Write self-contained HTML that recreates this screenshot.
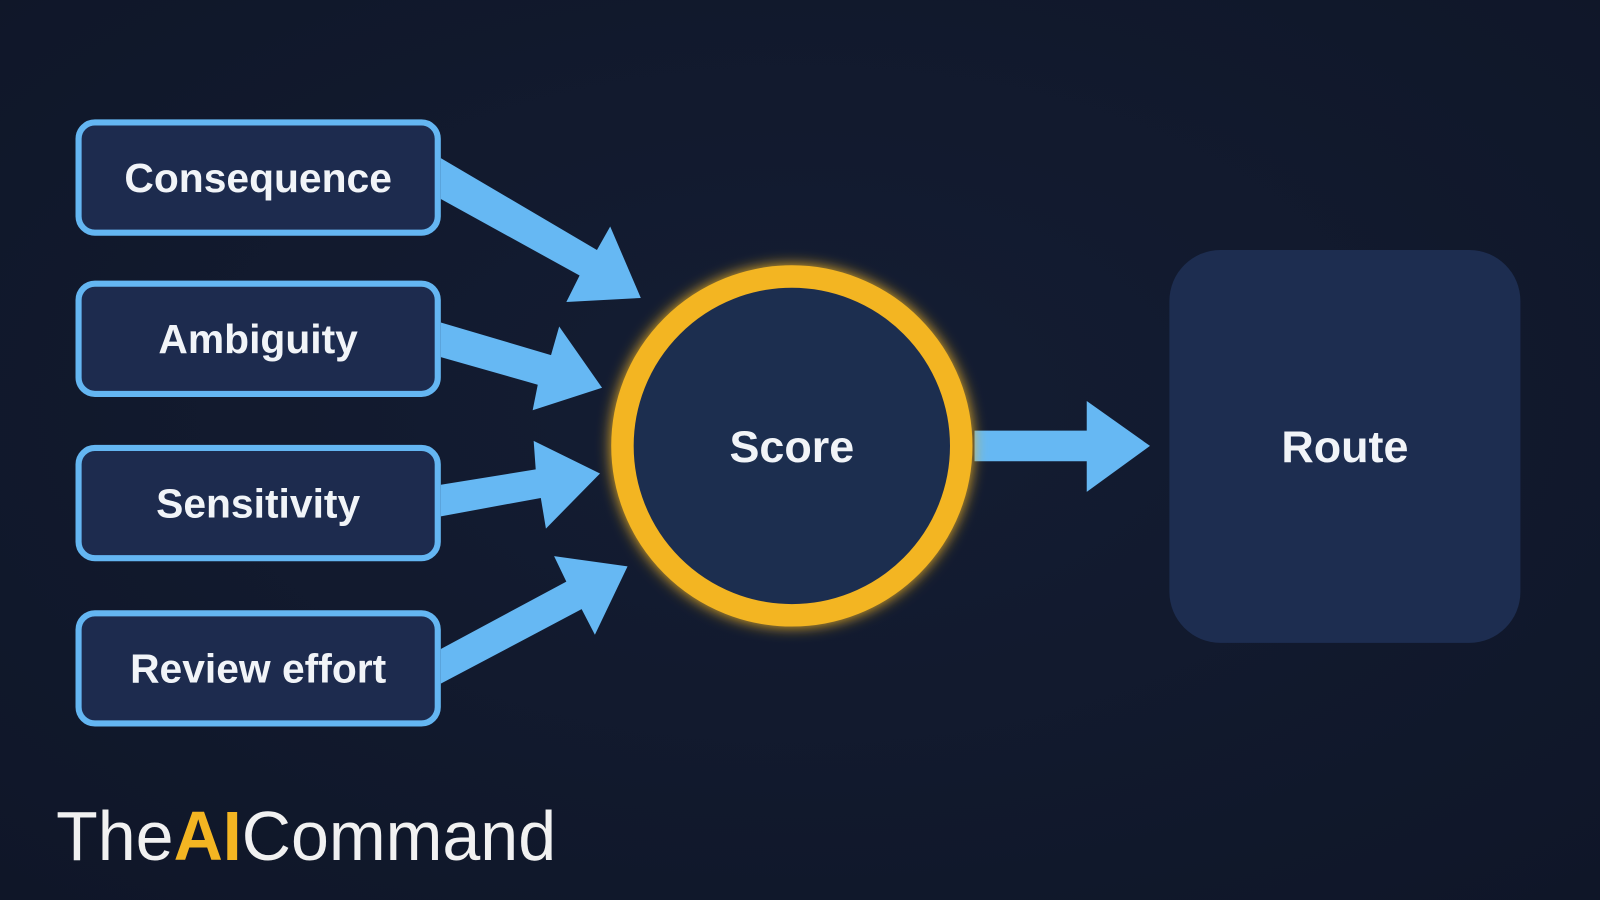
<!DOCTYPE html>
<html><head><meta charset="utf-8"><style>
html,body{margin:0;padding:0;background:#111a2d;}
svg{display:block}
</style></head><body>
<svg width="1600" height="900" viewBox="0 0 1568 882" xmlns="http://www.w3.org/2000/svg">
<defs>
<radialGradient id="bg" cx="50%" cy="45%" r="75%">
<stop offset="0" stop-color="#141d33"/><stop offset="1" stop-color="#0f1628"/>
</radialGradient>
<filter id="glow" x="-30%" y="-30%" width="160%" height="160%">
<feGaussianBlur stdDeviation="7" result="b"/>
<feMerge><feMergeNode in="b"/><feMergeNode in="SourceGraphic"/></feMerge>
</filter>
</defs>
<rect width="1568" height="882" fill="url(#bg)"/>
<g fill="#1d2b4e" stroke="#64b6f2" stroke-width="6">
<rect x="77" y="120" width="352" height="108" rx="16"/>
<rect x="77" y="278" width="352" height="108" rx="16"/>
<rect x="77" y="439" width="352" height="108" rx="16"/>
<rect x="77" y="601" width="352" height="108" rx="16"/>
</g>
<g fill="#66b8f3">
<polygon points="432,155 585,245 598,222 628,292 555,296 568,270 432,195"/>
<polygon points="432,316 540,348 548,320 590,380 522,402 527,377 432,350"/>
<polygon points="432,475 525,460 523,432 588,464 535,518 530,488 432,506"/>
<polygon points="432,636 555,570 543,545 615,555 583,622 570,597 432,670"/>
<polygon points="955,422 1065,422 1065,393 1127,437 1065,482 1065,452 955,452"/>
</g>
<circle cx="776" cy="437" r="166" fill="#1e2d50" stroke="#f3b522" stroke-width="22" filter="url(#glow)"/>
<rect x="1146" y="245" width="344" height="385" rx="50" fill="#1d2d50"/>
<g font-family="Liberation Sans, sans-serif" font-weight="bold" fill="#f1f4f8" text-anchor="middle" font-size="40">
<text x="253" y="188">Consequence</text>
<text x="253" y="346">Ambiguity</text>
<text x="253" y="507">Sensitivity</text>
<text x="253" y="669">Review effort</text>
<text x="776" y="453" font-size="44">Score</text>
<text x="1318" y="453" font-size="44">Route</text>
</g>
<text x="55" y="843" font-family="Liberation Sans, sans-serif" font-size="68" fill="#f1f1f1" textLength="490" lengthAdjust="spacingAndGlyphs">The<tspan fill="#f3b522" font-weight="bold">AI</tspan>Command</text>
</svg>
</body></html>
